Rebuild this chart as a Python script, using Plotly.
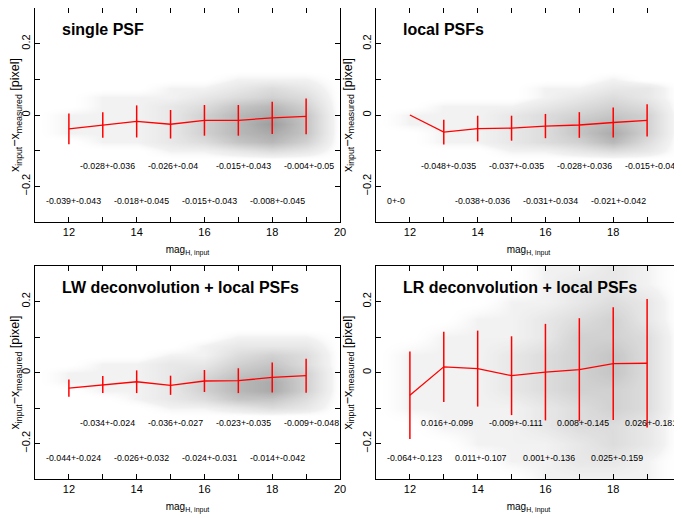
import plotly.graph_objects as go

# magnitude bins
mags = [12, 13, 14, 15, 16, 17, 18, 19]

# mean offset and scatter per bin
mean_single = [-0.039, -0.028, -0.018, -0.026, -0.015, -0.015, -0.008, -0.004]
std_single = [0.043, 0.036, 0.045, 0.04, 0.043, 0.043, 0.045, 0.05]

mean_local = [0, -0.048, -0.038, -0.037, -0.031, -0.028, -0.021, -0.015]
std_local = [0, 0.035, 0.036, 0.035, 0.034, 0.036, 0.042, 0.045]

mean_lw = [-0.044, -0.034, -0.026, -0.036, -0.024, -0.023, -0.014, -0.009]
std_lw = [0.024, 0.024, 0.032, 0.027, 0.031, 0.035, 0.042, 0.048]

mean_lr = [-0.064, 0.016, 0.011, -0.009, 0.001, 0.008, 0.025, 0.026]
std_lr = [0.123, 0.099, 0.107, 0.111, 0.136, 0.145, 0.159, 0.181]

titles = ['single PSF', 'local PSFs', 'LW deconvolution + local PSFs',
          'LR deconvolution + local PSFs']

# eye-estimated star density of the dot clouds (rows = y, cols = mag)
dens_mag = [11, 12, 13, 14, 15, 16, 17, 18, 19, 20]
dens_y_narrow = [-0.125, -0.1, -0.075, -0.05, -0.025, 0, 0.025, 0.05, 0.075, 0.1, 0.125]
dens_y_wide = [-0.3, -0.25, -0.2, -0.15, -0.1, -0.05, 0, 0.05, 0.1, 0.15, 0.2, 0.25, 0.3]

dens_single = [
    [0, 0, 0, 0, 0, 0, 0, 0, 0, 0],
    [0, 0, 0, 0, 1, 1, 2, 3, 2, 0],
    [0, 0, 1, 1, 2, 3, 5, 6, 4, 0],
    [0, 1, 1, 1, 2, 4, 6, 7, 5, 0],
    [0, 1, 1, 1, 2, 4, 6, 8, 5, 0],
    [0, 1, 1, 1, 2, 4, 6, 7, 5, 0],
    [0, 0, 1, 1, 2, 3, 5, 6, 4, 0],
    [0, 0, 1, 1, 1, 2, 3, 4, 3, 0],
    [0, 0, 0, 0, 1, 1, 2, 3, 2, 0],
    [0, 0, 0, 0, 0, 0, 1, 1, 1, 0],
    [0, 0, 0, 0, 0, 0, 0, 0, 0, 0],
]
dens_local = [
    [0, 0, 0, 0, 0, 0, 0, 0, 0, 0],
    [0, 0, 0, 0, 1, 1, 2, 3, 2, 0],
    [0, 0, 1, 1, 2, 3, 4, 6, 3, 0],
    [0, 0, 1, 1, 2, 3, 5, 7, 4, 0],
    [0, 1, 1, 1, 2, 3, 5, 6, 4, 0],
    [0, 1, 1, 1, 2, 3, 4, 5, 4, 0],
    [0, 0, 1, 1, 1, 2, 3, 4, 3, 0],
    [0, 0, 0, 0, 0, 1, 2, 3, 2, 0],
    [0, 0, 0, 0, 0, 1, 1, 2, 2, 0],
    [0, 0, 0, 0, 0, 0, 0, 1, 0, 0],
    [0, 0, 0, 0, 0, 0, 0, 0, 0, 0],
]
dens_lw = [
    [0, 0, 0, 0, 0, 0, 0, 0, 0, 0],
    [0, 0, 0, 0, 1, 1, 2, 3, 2, 0],
    [0, 0, 0, 1, 2, 3, 5, 5, 3, 0],
    [0, 0, 1, 1, 2, 4, 6, 7, 4, 0],
    [0, 1, 1, 1, 2, 4, 6, 7, 4, 0],
    [0, 1, 1, 1, 2, 3, 5, 6, 4, 0],
    [0, 0, 1, 1, 2, 2, 4, 5, 3, 0],
    [0, 0, 0, 0, 1, 1, 3, 4, 3, 0],
    [0, 0, 0, 0, 0, 1, 2, 2, 2, 0],
    [0, 0, 0, 0, 0, 0, 1, 1, 1, 0],
    [0, 0, 0, 0, 0, 0, 0, 0, 0, 0],
]
dens_lr = [
    [0, 0, 0, 0, 0, 1, 1, 1, 1, 0],
    [0, 0, 0, 0, 1, 1, 2, 2, 1, 0],
    [0, 0, 0, 1, 1, 1, 2, 3, 2, 0],
    [0, 0, 1, 1, 1, 2, 3, 3, 2, 0],
    [0, 1, 1, 1, 1, 2, 3, 4, 3, 0],
    [0, 1, 1, 1, 2, 3, 4, 4, 3, 0],
    [0, 1, 1, 1, 2, 3, 4, 5, 3, 0],
    [0, 1, 1, 1, 2, 3, 4, 5, 3, 0],
    [0, 0, 1, 1, 1, 2, 4, 4, 3, 0],
    [0, 0, 0, 1, 1, 2, 3, 4, 2, 0],
    [0, 0, 0, 0, 1, 1, 2, 3, 2, 0],
    [0, 0, 0, 0, 0, 1, 2, 2, 1, 0],
    [0, 0, 0, 0, 0, 1, 1, 2, 1, 0],
]

panels = [
    (mean_single, std_single, dens_single, dens_y_narrow),
    (mean_local, std_local, dens_local, dens_y_narrow),
    (mean_lw, std_lw, dens_lw, dens_y_narrow),
    (mean_lr, std_lr, dens_lr, dens_y_wide),
]

# the page body adds an 8px offset; the figure spills past the window edge
OFF = 8
W, H = 682, 518
# plot areas in window pixels (left, right, top, bottom)
boxes = [(35, 340, 8, 222), (376, 681, 8, 222),
         (35, 340, 266, 479), (376, 681, 266, 479)]

FONT = 'Arial, Liberation Sans, Helvetica, sans-serif'
gray = [[0, 'rgba(255,255,255,0)'], [0.1, 'rgba(90,90,90,0.08)'],
        [1, 'rgba(40,40,40,0.6)']]

fig = go.Figure()
layout = dict(width=W, height=H, margin=dict(l=0, r=0, t=0, b=0),
              paper_bgcolor='white', plot_bgcolor='white', showlegend=False,
              font=dict(family=FONT, color='black'), annotations=[])

for i, (mean, std, dens, dy) in enumerate(panels):
    n = '' if i == 0 else str(i + 1)
    xa, ya = 'x' + n, 'y' + n

    fig.add_trace(go.Heatmap(x=dens_mag, y=dy, z=dens, zmin=0, zmax=10,
                             colorscale=gray, zsmooth='best', showscale=False,
                             hoverinfo='skip', xaxis=xa, yaxis=ya))
    fig.add_trace(go.Scatter(x=mags, y=mean, mode='lines',
                             line=dict(color='red', width=1.3),
                             error_y=dict(type='data', array=std, color='red',
                                          thickness=1.5, width=0),
                             xaxis=xa, yaxis=ya))

    l, r, t, b = [v - OFF for v in boxes[i]]
    tick = dict(ticks='inside', ticklen=5, tickcolor='black', showline=True,
                linecolor='black', linewidth=1, mirror='allticks',
                showgrid=False, zeroline=False, automargin=False,
                tickfont=dict(size=11, family=FONT))
    layout['xaxis' + n] = dict(
        domain=[l / W, r / W], range=[11, 20], anchor=ya,
        tick0=12, dtick=2,
        minor=dict(dtick=1, ticks='inside', ticklen=5, tickcolor='black'),
        title=dict(text='mag<sub>H, input</sub>', font=dict(size=10), standoff=8),
        **tick)
    layout['yaxis' + n] = dict(
        domain=[1 - b / H, 1 - t / H], range=[-0.3, 0.3], anchor=xa,
        tick0=0, dtick=0.2, tickangle=-90,
        minor=dict(dtick=0.1, ticks='inside', ticklen=5, tickcolor='black'),
        title=dict(text='x<sub>input</sub>\u2212x<sub>measured</sub> [pixel]',
                   font=dict(size=12.5), standoff=5),
        **tick)

    layout['annotations'].append(dict(
        x=11.75, y=0.24, xref=xa, yref=ya, text='<b>' + titles[i] + '</b>',
        showarrow=False, xanchor='left', yanchor='middle',
        font=dict(size=16, family=FONT)))

    # stats labels: odd bins on the upper row, even bins on the lower row
    for k, m in enumerate(mags):
        label = '{:g}+-{:g}'.format(mean[k], std[k])
        layout['annotations'].append(dict(
            x=m - 0.72, y=-0.142 if m % 2 else -0.241, xref=xa, yref=ya,
            text=label, showarrow=False, xanchor='left', yanchor='middle',
            font=dict(size=8.8, family=FONT)))

fig.update_layout(**layout)
fig.write_html('out.html')
